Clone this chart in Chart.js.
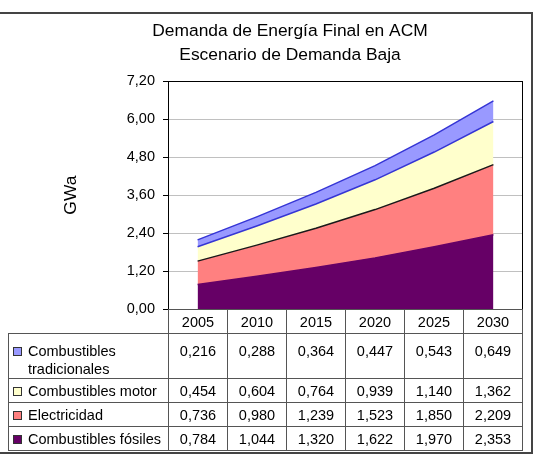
<!DOCTYPE html>
<html>
<head>
  <meta charset="utf-8">
  <title>Demanda de Energía Final en ACM</title>
  <script src="https://cdn.jsdelivr.net/npm/chart.js@4.4.1/dist/chart.umd.min.js"></script>
  <style>
    body {
      margin: 0;
      background-color: white;
      font-family: "Liberation Sans", Arial, sans-serif;
    }
    .frame {
      position: absolute;
      left: -2px;
      top: 12px;
      width: 535px;
      height: 442px;
      box-sizing: border-box;
      border: 2px solid #444;
    }
    .chart-box {
      position: absolute;
      left: 0;
      top: 0;
      width: 534px;
      height: 326px;
    }
    #dataTable {
      position: absolute;
      left: 8px;
      top: 309px;
      width: 515px;
      border-collapse: collapse;
      table-layout: fixed;
      font-size: 14.5px;
      line-height: 18px;
      color: #000;
    }
    #dataTable td {
      border: 1px solid #555;
      text-align: center;
      vertical-align: middle;
      padding: 0;
      height: 23px;
      white-space: nowrap;
      overflow: hidden;
      background: white;
    }
    #dataTable td.blank {
      border-left: none;
      border-top: none;
      border-bottom: none;
      background: transparent;
    }
    #dataTable td.label {
      text-align: left;
      padding-left: 4px;
    }
    #dataTable tr.tall td {
      vertical-align: top;
      padding-top: 8px;
      height: 35px;
      white-space: normal;
    }
    .key {
      display: flex;
      align-items: flex-start;
    }
    .swatch {
      flex: none;
      width: 9px;
      height: 9px;
      box-sizing: border-box;
      border: 1px solid #333;
      margin: 5px 6px 0 0;
    }
  </style>
</head>
<body>
  <div class="frame"></div>
  <div class="chart-box">
    <canvas id="areaChart"></canvas>
  </div>
  <table id="dataTable"></table>

  <script>
    // Data
    var years = ['2005', '2010', '2015', '2020', '2025', '2030'];
    var seriesNames = ['Combustibles tradicionales', 'Combustibles motor', 'Electricidad', 'Combustibles fósiles'];
    var tradicionales = [0.216, 0.288, 0.364, 0.447, 0.543, 0.649];
    var motor = [0.454, 0.604, 0.764, 0.939, 1.140, 1.362];
    var electricidad = [0.736, 0.980, 1.239, 1.523, 1.850, 2.209];
    var fosiles = [0.784, 1.044, 1.320, 1.622, 1.970, 2.353];
    var yTicks = [0, 1.2, 2.4, 3.6, 4.8, 6.0, 7.2];

    var fillColors = ['#9999FF', '#FFFFCC', '#FF8080', '#660066'];
    var lineColors = ['#3535D5', '#3535D5', '#1a1a1a', '#660066'];
    var seriesValues = [tradicionales, motor, electricidad, fosiles];

    function comma(v, d) {
      return v.toFixed(d).replace('.', ',');
    }

    // Stacked from the bottom: fósiles first
    var datasets = [];
    for (var i = seriesValues.length - 1; i >= 0; i--) {
      datasets.push({
        label: seriesNames[i],
        data: seriesValues[i],
        backgroundColor: fillColors[i],
        borderColor: lineColors[i],
        borderWidth: 1.5,
        pointRadius: 0,
        tension: 0,
        fill: datasets.length === 0 ? 'origin' : '-1'
      });
    }

    // black frame around the plot area
    var plotBorder = {
      id: 'plotBorder',
      afterDatasetsDraw: function(chart) {
        var a = chart.chartArea;
        var ctx = chart.ctx;
        ctx.save();
        ctx.strokeStyle = '#000';
        ctx.lineWidth = 1;
        ctx.strokeRect(Math.round(a.left) + 0.5, Math.round(a.top) + 0.5,
          Math.round(a.right - a.left) - 1, Math.round(a.bottom - a.top));
        ctx.restore();
      }
    };

    var ctx = document.getElementById('areaChart').getContext('2d');
    var chart = new Chart(ctx, {
      type: 'line',
      data: {
        labels: years,
        datasets: datasets
      },
      options: {
        responsive: true,
        maintainAspectRatio: false,
        animation: false,
        layout: {
          padding: { left: 57, right: 11, top: 0, bottom: 0 }
        },
        plugins: {
          legend: { display: false },
          tooltip: { enabled: false },
          title: {
            display: true,
            text: ['Demanda de Energía Final en ACM', 'Escenario de Demanda Baja'],
            color: '#000',
            font: { family: 'Liberation Sans', size: 17.4, weight: 'normal', lineHeight: 1.38 },
            padding: { top: 19, bottom: 14 }
          }
        },
        scales: {
          x: {
            offset: true,
            ticks: { display: false },
            grid: { display: false },
            border: { display: false },
            afterFit: function(axis) {
              axis.height = 11;
            }
          },
          y: {
            stacked: true,
            min: 0,
            max: 7.2,
            afterBuildTicks: function(axis) {
              axis.ticks = yTicks.map(function(v) { return { value: v }; });
            },
            afterFit: function(axis) {
              axis.width = 111;
            },
            ticks: {
              color: '#000',
              padding: 8,
              font: { family: 'Liberation Sans', size: 14.5 },
              callback: function(value) {
                return comma(value, 2);
              }
            },
            grid: {
              color: '#c0c0c0',
              tickColor: '#000',
              tickLength: 5
            },
            border: { color: '#000' },
            title: {
              display: true,
              text: 'GWa',
              color: '#000',
              font: { family: 'Liberation Sans', size: 17.4 }
            }
          }
        }
      },
      plugins: [plotBorder]
    });

    // data table under the plot
    var table = document.getElementById('dataTable');
    var html = '<colgroup><col style="width:160px">';
    for (var c = 0; c < years.length; c++) html += '<col>';
    html += '</colgroup><tr><td class="blank"></td>';
    for (var c = 0; c < years.length; c++) html += '<td>' + years[c] + '</td>';
    html += '</tr>';
    for (var r = 0; r < seriesNames.length; r++) {
      html += '<tr' + (r === 0 ? ' class="tall"' : '') + '><td class="label"><div class="key">' +
        '<span class="swatch" style="background:' + fillColors[r] + '"></span><span>' +
        seriesNames[r] + '</span></div></td>';
      for (var c = 0; c < years.length; c++) {
        html += '<td>' + comma(seriesValues[r][c], 3) + '</td>';
      }
      html += '</tr>';
    }
    table.innerHTML = html;
  </script>
</body>
</html>
